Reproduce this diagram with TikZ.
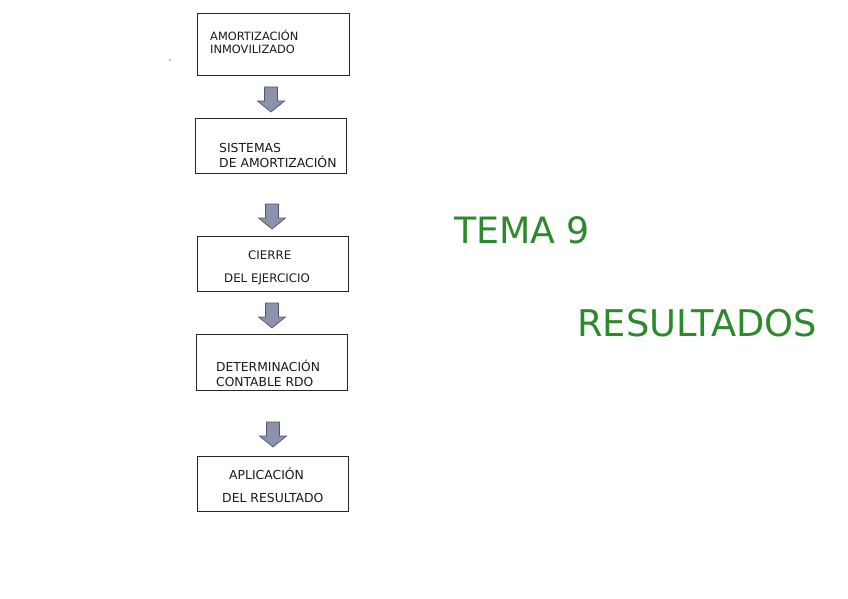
\documentclass[tikz,border=0pt]{standalone}
\usepackage{fontspec}
\setmainfont{DejaVu Sans}
\definecolor{titlegreen}{RGB}{44,138,44}
\definecolor{arrowfill}{RGB}{140,146,172}
\definecolor{arrowline}{RGB}{80,86,112}
\tikzset{
  boxnode/.style={draw=black!85,line width=0.8pt,minimum width=152pt,minimum height=56pt,inner sep=0pt,anchor=north west},
  boxtext/.style={anchor=base west,inner sep=0pt,font=\fontsize{10.6}{12}\selectfont,text=black!90},
  titletext/.style={anchor=base west,inner sep=0pt,font=\fontsize{36.8}{40}\selectfont,text=titlegreen},
  blockarrow/.style={fill=arrowfill,draw=arrowline,line width=0.7pt,line join=miter}
}
\newcommand{\downarrowshape}[1]{%
  \path[blockarrow] ($(#1)+(-6.5,0)$) -- ++(13,0) -- ++(0,14) -- ++(7,0) -- ($(#1)+(0,25)$) -- ($(#1)+(-13.5,14)$) -- ++(7,0) -- cycle;}
\usetikzlibrary{calc}
\begin{document}
\begin{tikzpicture}[x=1pt,y=-1pt]
\useasboundingbox (0,0) rectangle (848,599);
\fill[black!50] (170,60) circle (0.8);
% boxes
\node[boxnode,line width=1.1pt,minimum width=152pt,minimum height=62pt] (b1) at (197,13) {};
\node[boxnode,minimum width=151pt,minimum height=55pt] (b2) at (195,118) {};
\node[boxnode,minimum width=151pt,minimum height=55pt] (b3) at (197,236) {};
\node[boxnode,minimum width=151pt,minimum height=56pt] (b4) at (196,334) {};
\node[boxnode,minimum width=151pt,minimum height=55pt] (b5) at (197,456) {};
% texts
\node[boxtext,font=\fontsize{11.4}{12}\selectfont] (t1a) at (210,41) {AMORTIZACIÓN};
\node[boxtext,font=\fontsize{11.4}{12}\selectfont] (t1b) at (210,54) {INMOVILIZADO};
\node[boxtext,font=\fontsize{12.4}{13}\selectfont] (t2a) at (219,152) {SISTEMAS};
\node[boxtext,font=\fontsize{12.4}{13}\selectfont] (t2b) at (219,167) {DE AMORTIZACIÓN};
\node[boxtext,font=\fontsize{11.8}{13}\selectfont] (t3a) at (248,259) {CIERRE};
\node[boxtext,font=\fontsize{11.8}{13}\selectfont] (t3b) at (224,282) {DEL EJERCICIO};
\node[boxtext,font=\fontsize{12.3}{13}\selectfont] (t4a) at (216,371) {DETERMINACIÓN};
\node[boxtext,font=\fontsize{12.3}{13}\selectfont] (t4b) at (216,386) {CONTABLE RDO};
\node[boxtext,font=\fontsize{12.4}{13}\selectfont] (t5a) at (229,479) {APLICACIÓN};
\node[boxtext,font=\fontsize{12.4}{13}\selectfont] (t5b) at (222,502) {DEL RESULTADO};
% arrows
\coordinate (a1) at (271,87);
\coordinate (a2) at (272,204);
\coordinate (a3) at (272,303);
\coordinate (a4) at (273,422);
\downarrowshape{a1}
\downarrowshape{a2}
\downarrowshape{a3}
\downarrowshape{a4}
% titles
\node[titletext,font=\fontsize{36.3}{40}\selectfont] (tema) at (454,243) {TEMA 9};
\node[titletext] (res) at (577,336) {RESULTADOS};
\end{tikzpicture}
\end{document}
